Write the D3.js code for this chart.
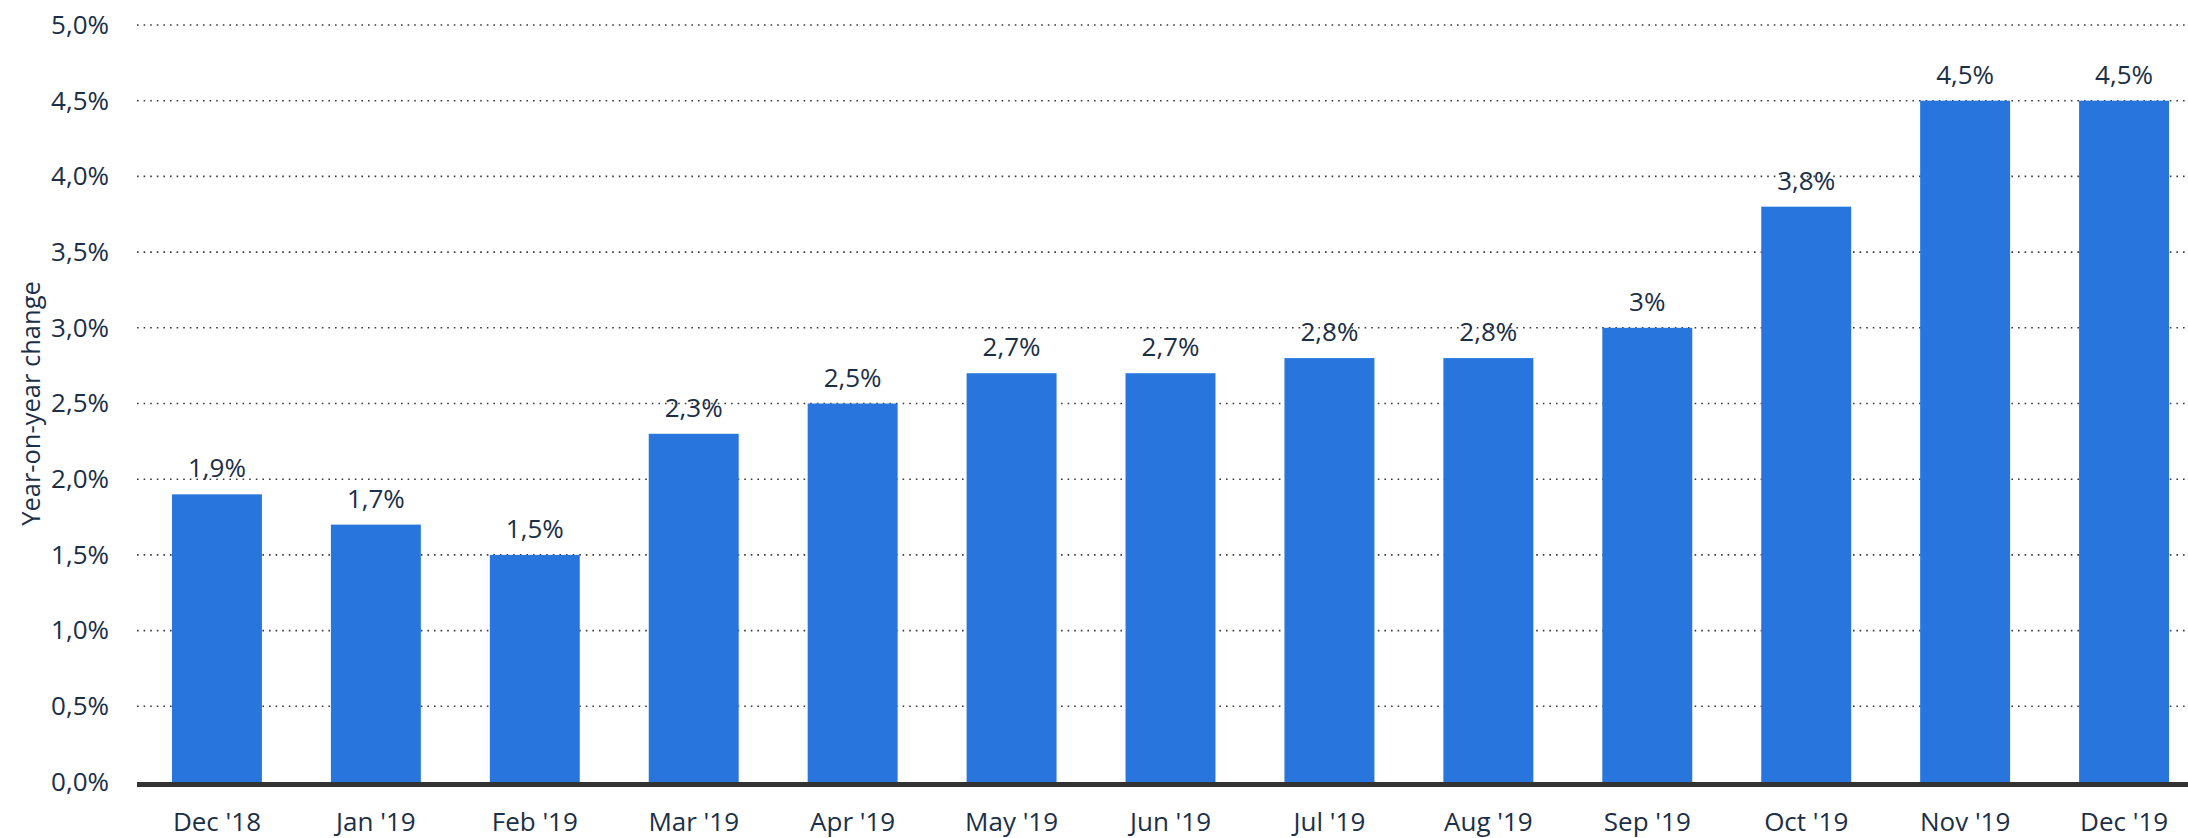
<!DOCTYPE html>
<html>
<head>
<meta charset="utf-8">
<script src="https://cdn.jsdelivr.net/npm/d3@7"></script>
<style>
  body { margin: 0; background: #fff; }
  svg { display: block; font-family: "Open Sans", sans-serif; }
</style>
</head>
<body>
<svg id="canvas"></svg>
<script>
let months = ["Dec '18", "Jan '19", "Feb '19", "Mar '19", "Apr '19", "May '19", "Jun '19",
              "Jul '19", "Aug '19", "Sep '19", "Oct '19", "Nov '19", "Dec '19"];
let values = [1.9, 1.7, 1.5, 2.3, 2.5, 2.7, 2.7, 2.8, 2.8, 3.0, 3.8, 4.5, 4.5];
let yTicks = [0, 0.5, 1, 1.5, 2, 2.5, 3, 3.5, 4, 4.5, 5];

let width = 2188;
let height = 838;
let plotLeft = 137;
let plotTop = 25;
let plotBottom = 782;

let textColor = "#1b2f47";
let barColor = "#2876dd";

let canvas = d3.select("#canvas")
    .attr("width", width)
    .attr("height", height);

let xScale = d3.scaleBand()
    .domain(months)
    .range([plotLeft, 2204])
    .paddingInner(0.434)
    .paddingOuter(0.22);

let yScale = d3.scaleLinear()
    .domain([0, 5])
    .range([plotBottom, plotTop]);

let fmt = (v) => {
    // comma as decimal sep, whole numbers shown without decimals on bars
    return (Number.isInteger(v) ? d3.format("d")(v) : d3.format(".1f")(v)).replace(".", ",") + "%";
};

// dotted gridlines
canvas.append("g")
    .selectAll("line")
    .data(yTicks.slice(1))
    .enter()
    .append("line")
    .attr("x1", plotLeft)
    .attr("x2", 2186)
    .attr("y1", (d) => yScale(d))
    .attr("y2", (d) => yScale(d))
    .attr("stroke", "#3a3a3a")
    .attr("stroke-width", 1.6)
    .attr("stroke-dasharray", "1.6,5");

// y axis labels
let yAxis = d3.axisLeft(yScale)
    .tickValues(yTicks)
    .tickSize(0)
    .tickPadding(0)
    .tickFormat((d) => d3.format(".1f")(d).replace(".", ",") + "%");

canvas.append("g")
    .attr("id", "y-axis")
    .attr("transform", "translate(109, 0)")
    .call(yAxis)
    .call((g) => g.select(".domain").remove())
    .selectAll("text")
    .attr("font-family", "'Open Sans', sans-serif")
    .attr("font-size", "26px")
    .attr("fill", textColor);

// bars
canvas.append("g")
    .selectAll("rect")
    .data(values)
    .enter()
    .append("rect")
    .attr("x", (d, i) => xScale(months[i]))
    .attr("width", xScale.bandwidth())
    .attr("y", (d) => yScale(d))
    .attr("height", (d) => plotBottom - yScale(d))
    .attr("fill", barColor);

// value labels
canvas.append("g")
    .selectAll("text")
    .data(values)
    .enter()
    .append("text")
    .text((d) => fmt(d))
    .attr("x", (d, i) => xScale(months[i]) + xScale.bandwidth() / 2)
    .attr("y", (d) => yScale(d) - 17)
    .attr("text-anchor", "middle")
    .attr("font-size", "26px")
    .attr("fill", textColor);

// x axis
let xAxis = d3.axisBottom(xScale)
    .tickSize(0)
    .tickPadding(0);

canvas.append("g")
    .attr("id", "x-axis")
    .attr("transform", "translate(0, " + plotBottom + ")")
    .call(xAxis)
    .call((g) => g.select(".domain").remove())
    .selectAll("text")
    .attr("dy", null)
    .attr("y", 49)
    .attr("font-family", "'Open Sans', sans-serif")
    .attr("font-size", "26px")
    .attr("fill", textColor);

// thick baseline
canvas.append("line")
    .attr("x1", plotLeft)
    .attr("x2", width)
    .attr("y1", plotBottom + 2.5)
    .attr("y2", plotBottom + 2.5)
    .attr("stroke", "#333")
    .attr("stroke-width", 5);

// y axis title
canvas.append("text")
    .text("Year-on-year change")
    .attr("transform", "translate(40, " + ((plotTop + plotBottom) / 2) + ") rotate(-90)")
    .attr("text-anchor", "middle")
    .attr("font-size", "25.5px")
    .attr("fill", textColor);
</script>
</body>
</html>
